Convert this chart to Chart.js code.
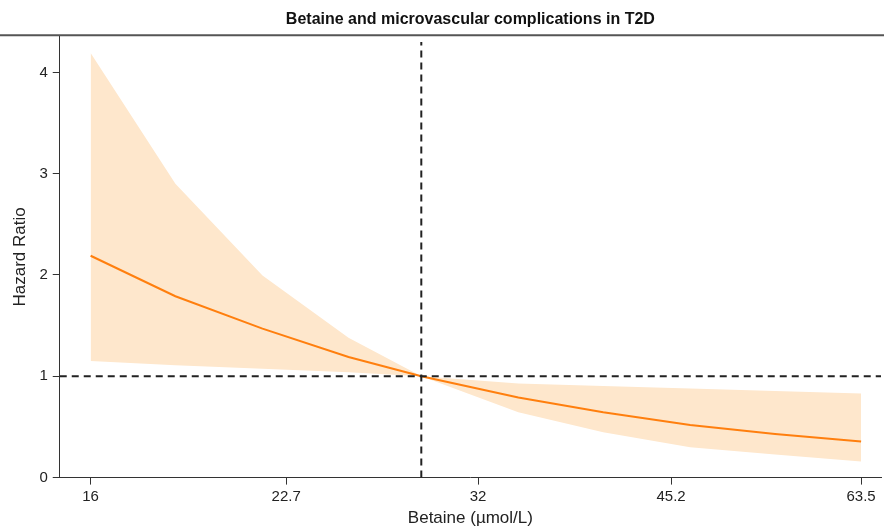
<!DOCTYPE html>
<html lang="en">
<head>
    <meta charset="UTF-8">
    <title>Betaine and microvascular complications in T2D</title>
    <script src="https://cdn.jsdelivr.net/npm/chart.js@4.4.0/dist/chart.umd.min.js"></script>
    <style>
        html, body { margin: 0; padding: 0; background: #fff; }
        #wrap { width: 884px; height: 529px; position: relative; }
    </style>
</head>
<body>
<div id="wrap"><canvas id="myCanvas"></canvas></div>
<script>
    // betaine values (umol/L) and hazard ratio with 95% CI
    const betaine  = [16, 18.62, 21.76, 25.38, 28.91, 34.39, 40.03, 46.77, 54.44, 63.5];
    const hrEst    = [2.19, 1.79, 1.47, 1.19, 1.0, 0.79, 0.645, 0.52, 0.43, 0.357];
    const hrLower  = [1.15, 1.11, 1.075, 1.04, 1.0, 0.645, 0.447, 0.30, 0.228, 0.16];
    const hrUpper  = [4.19, 2.90, 1.995, 1.38, 1.0, 0.93, 0.905, 0.88, 0.855, 0.83];
    const xTicks   = [16, 22.7, 32, 45.2, 63.5];
    const yTicks   = [0, 1, 2, 3, 4];
    const refX = 28.91;   // reference betaine level
    const refHR = 1;
    const xMin = 15.14, xMax = 65.8;
    const yMin = 0, yMax = 4.357;

    const bandColor = 'rgb(254,231,204)';
    const lineColor = 'rgb(255,127,14)';
    const font = 'Liberation Sans, Arial, sans-serif';

    function pts(ys) {
        return betaine.map((x, i) => ({x: x, y: ys[i]}));
    }

    // gray rule along the top of the plot
    const topRule = {
        id: 'topRule',
        afterDraw(chart) {
            const c = chart.ctx, top = chart.chartArea.top;
            c.save();
            c.strokeStyle = '#555';
            c.lineWidth = 2;
            c.beginPath();
            c.moveTo(0, top - 1);
            c.lineTo(chart.width, top - 1);
            c.stroke();
            c.restore();
        }
    };

    const ctx = document.getElementById('myCanvas').getContext('2d');
    let myChart = new Chart(ctx, {
        type: 'line',
        data: {
            datasets: [
                {
                    label: 'upper',
                    data: pts(hrUpper),
                    borderWidth: 0,
                    pointRadius: 0,
                    backgroundColor: bandColor,
                    fill: '+1',
                    order: 5
                },
                {
                    label: 'lower',
                    data: pts(hrLower),
                    borderWidth: 0,
                    pointRadius: 0,
                    fill: false,
                    order: 5
                },
                {
                    label: 'HR',
                    data: pts(hrEst),
                    borderColor: lineColor,
                    borderWidth: 2,
                    pointRadius: 0,
                    fill: false,
                    order: 2
                },
                {
                    label: 'refH',
                    data: [{x: xMin, y: refHR}, {x: xMax, y: refHR}],
                    borderColor: '#222',
                    borderWidth: 2,
                    borderDash: [7, 5],
                    pointRadius: 0,
                    fill: false,
                    order: 1
                },
                {
                    label: 'refV',
                    data: [{x: refX, y: yMin}, {x: refX, y: 4.3}],
                    borderColor: '#222',
                    borderWidth: 2,
                    borderDash: [7, 5],
                    pointRadius: 0,
                    fill: false,
                    order: 1
                }
            ]
        },
        options: {
            responsive: true,
            maintainAspectRatio: false,
            animation: false,
            layout: { padding: { left: 10, right: 3, top: 0, bottom: 0 } },
            plugins: {
                legend: { display: false },
                tooltip: { enabled: false },
                title: {
                    display: true,
                    fullSize: false,
                    text: 'Betaine and microvascular complications in T2D',
                    color: '#111',
                    font: { family: font, size: 16, weight: 'bold' },
                    padding: { top: 10, bottom: 7 }
                }
            },
            scales: {
                x: {
                    type: 'logarithmic',
                    min: xMin,
                    max: xMax,
                    afterBuildTicks: (axis) => { axis.ticks = xTicks.map(v => ({value: v})); },
                    ticks: {
                        color: '#222',
                        font: { family: font, size: 15 },
                        maxRotation: 0,
                        autoSkip: false,
                        padding: 3,
                        callback: (v) => String(v)
                    },
                    grid: { drawOnChartArea: false, drawTicks: true, tickLength: 7, color: '#333' },
                    border: { display: true, color: '#333', width: 1 },
                    title: {
                        display: true,
                        text: 'Betaine (\u00b5mol/L)',
                        color: '#222',
                        font: { family: font, size: 17 },
                        padding: { top: 0, bottom: 0 }
                    }
                },
                y: {
                    type: 'linear',
                    min: yMin,
                    max: yMax,
                    afterBuildTicks: (axis) => { axis.ticks = yTicks.map(v => ({value: v})); },
                    ticks: {
                        color: '#222',
                        font: { family: font, size: 15 },
                        padding: 5
                    },
                    grid: { drawOnChartArea: false, drawTicks: true, tickLength: 7, color: '#333' },
                    border: { display: true, color: '#333', width: 1 },
                    title: {
                        display: true,
                        text: 'Hazard Ratio',
                        color: '#222',
                        font: { family: font, size: 17 },
                        padding: { top: 0, bottom: 4 }
                    }
                }
            }
        },
        plugins: [topRule]
    });
</script>
</body>
</html>
